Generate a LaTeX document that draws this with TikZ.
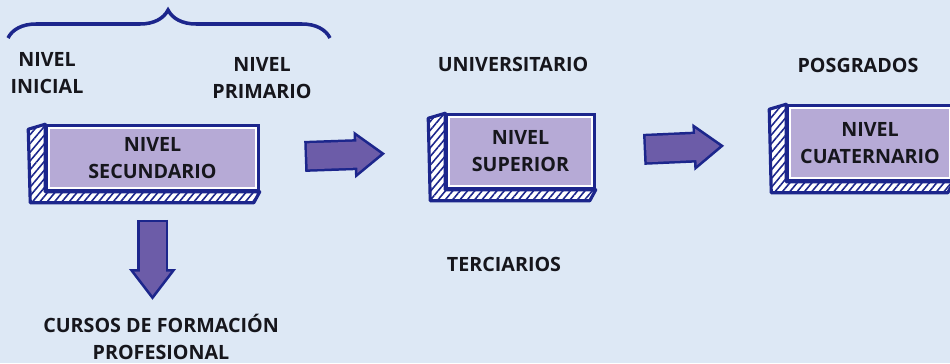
\documentclass[tikz,border=0pt]{standalone}
\usepackage{fontspec}
\setmainfont{Open Sans}
\usetikzlibrary{positioning,arrows.meta,patterns.meta,decorations.pathreplacing}

\definecolor{fondo}{RGB}{221,232,245}
\definecolor{borde}{RGB}{28,38,140}
\definecolor{lila}{RGB}{182,170,214}
\definecolor{morado}{RGB}{108,92,168}
\definecolor{tinta}{RGB}{22,22,28}

\tikzset{
  texto/.style={align=center, font=\fontsize{11.2}{15.4}\selectfont\bfseries, text=tinta},
  nivel/.style={texto, draw=borde, line width=2pt, fill=lila, inner sep=0pt},
  flecha/.style 2 args={draw=morado, line width=0.52cm,
    shorten <=#1cm+0.05cm, shorten >=#2cm+0.09cm,
    -{Triangle[length=0.48cm, width=0.7cm]},
    preaction={draw=borde, line width=0.62cm, shorten <=#1cm, shorten >=#2cm,
      -{Triangle[length=0.62cm, width=0.9cm]}}}
}

\begin{document}
\begin{tikzpicture}
        \useasboundingbox[fill=fondo] (0, 0) rectangle (19, 7.26);
        % cajas
        \node[nivel, minimum width=4.22cm, minimum height=1.28cm] (sec) at (3.05, 4.10) {NIVEL\\SECUNDARIO};
        \node[nivel, minimum width=2.94cm, minimum height=1.46cm] (sup) at (10.41, 4.23) {NIVEL\\SUPERIOR};
        \node[nivel, minimum width=3.28cm, minimum height=1.48cm] (cua) at (17.40, 4.40) {NIVEL\\CUATERNARIO};
        \foreach \n in {sec, sup, cua}{
          \draw[preaction={fill=white}, pattern={Lines[angle=50, distance=3.2pt, line width=0.9pt]}, pattern color=borde,
            draw=borde, line width=1.8pt, line join=round]
          (\n.north west) -- ++(-0.34, -0.1) -- ([shift={(-0.3, -0.22)}]\n.south west)
          -- ([shift={(-0.12, -0.22)}]\n.south east) -- (\n.south east) -- (\n.south west) -- cycle;
          \draw[white, line width=1pt] ([shift={(0.08, -0.08)}]\n.north west) rectangle ([shift={(-0.08, 0.08)}]\n.south east);
        };
        % textos
        \node[texto] (inicial) at (0.94, 5.80) {NIVEL\\INICIAL};
        \node[texto] (primario) at (5.24, 5.70) {NIVEL\\PRIMARIO};
        \node[texto] (univ) at (10.26, 5.97) {UNIVERSITARIO};
        \node[texto] (posgrados) at (17.16, 5.95) {POSGRADOS};
        \node[texto] (terciarios) at (10.08, 1.98) {TERCIARIOS};
        \node[texto] (cursos) at (3.22, 0.52) {CURSOS DE FORMACIÓN\\PROFESIONAL};
        % llave
        \coordinate (llizq) at (0.16, 6.50);
        \coordinate (llder) at (6.60, 6.50);
        \draw[borde, line width=2pt, decorate, decoration={brace, amplitude=0.56cm, aspect=0.497}] (llizq) -- (llder);
        % flechas
        \draw[flecha={0.9}{1.2}] (sec.east) -- (sup.west);
        \draw[flecha={0.96}{1.24}] (sup.east) -- (cua.west);
        \draw[flecha={0.56}{0.16}] (sec.south) -- (sec.south |- cursos.north);
\end{tikzpicture}
\end{document}
